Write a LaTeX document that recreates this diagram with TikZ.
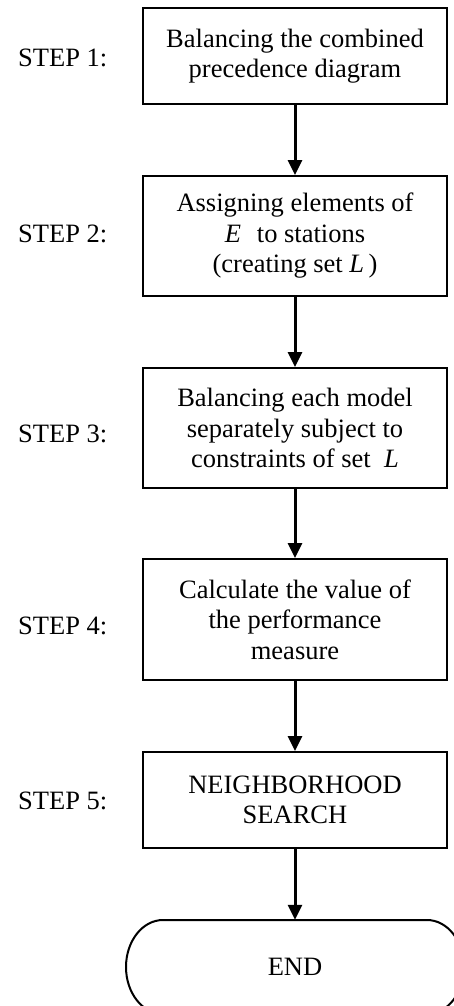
\documentclass[tikz,border=0pt]{standalone}
\usepackage{fontspec}
\setmainfont{Liberation Serif}
\usetikzlibrary{arrows.meta}
\begin{document}
\begin{tikzpicture}[x=1pt,y=-1pt,
  txt/.style={font=\fontsize{26.5}{30.5}\selectfont},
  stepbox/.style={txt, draw, line width=2pt, minimum width=304pt, inner sep=0pt, align=center},
  steplabel/.style={txt, anchor=base west, inner sep=0pt},
  flow/.style={line width=3pt, -{Triangle[width=14pt,length=15pt]}}]
\useasboundingbox (0,0) rectangle (454,1006);

% process boxes
\node[stepbox, minimum height=96pt]  (s1) at (295,56)    {Balancing the combined\\precedence diagram};
\node[stepbox, minimum height=120pt] (s2) at (295,236)   {Assigning elements of\\\textit{E}\hspace{0.35em} to stations\\(creating set \textit{L}\,)};
\node[stepbox, minimum height=120pt] (s3) at (295,428)   {Balancing each model\\separately subject to\\constraints of set\hspace{0.5em}\textit{L}};
\node[stepbox, minimum height=121pt] (s4) at (295,619.5) {Calculate the value of\\the performance\\measure};
\node[stepbox, minimum height=96pt]  (s5) at (295,800)   {NEIGHBORHOOD\\SEARCH};

% terminal
\node[txt, minimum width=338pt, minimum height=94pt, inner sep=0pt] (end) at (295,967) {END};
\draw[line width=2pt] (163,920) -- (427,920)
  arc[start angle=-90, end angle=90, x radius=37, y radius=47] -- (163,1014)
  arc[start angle=90, end angle=270, x radius=37, y radius=47] -- cycle;

% step labels
\node[steplabel] (l1) at (18,67)  {STEP 1:};
\node[steplabel] (l2) at (18,242) {STEP 2:};
\node[steplabel] (l3) at (18,442) {STEP 3:};
\node[steplabel] (l4) at (18,634) {STEP 4:};
\node[steplabel] (l5) at (18,809) {STEP 5:};

% flow arrows
\draw[flow] (s1) -- (s2);
\draw[flow] (s2) -- (s3);
\draw[flow] (s3) -- (s4);
\draw[flow] (s4) -- (s5);
\draw[flow] (s5) -- (end.north);
\end{tikzpicture}
\end{document}
